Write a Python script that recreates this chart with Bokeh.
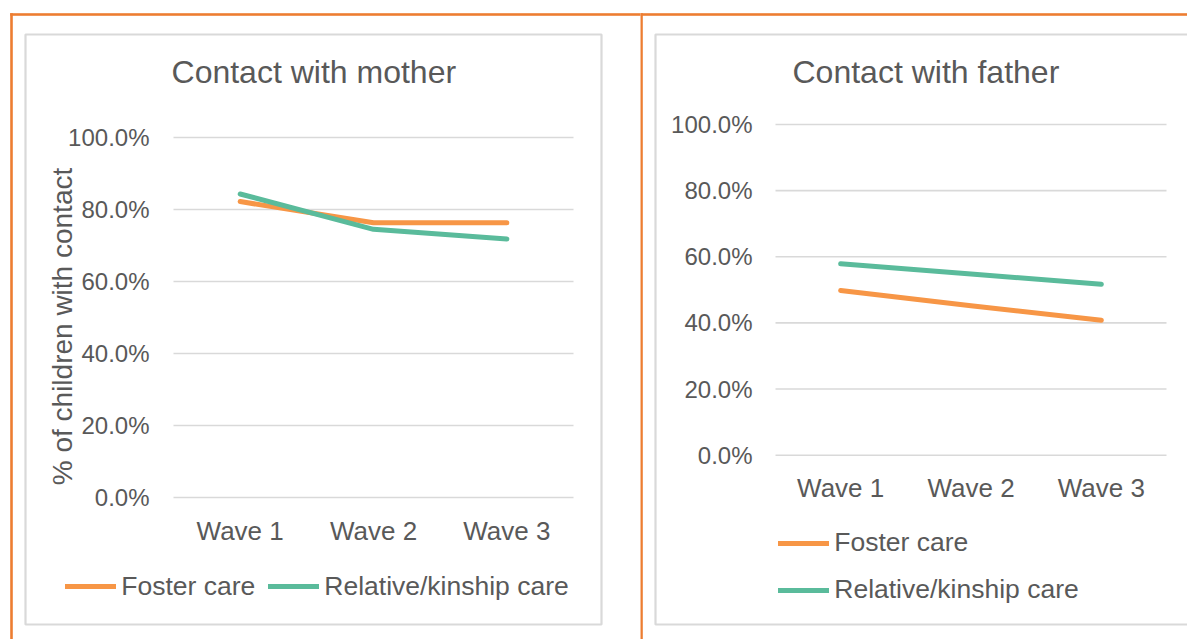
import math
from bokeh.plotting import figure
from bokeh.models import (Range1d, FixedTicker, PrintfTickFormatter, LinearAxis,
                          Legend, LegendItem, Label)
from bokeh.layouts import row
from bokeh.embed import file_html
from bokeh.resources import INLINE

# ---------------- data ----------------
waves = ["Wave 1", "Wave 2", "Wave 3"]
series_names = ["Foster care", "Relative/kinship care"]
mother_foster = [82.2, 76.3, 76.3]
mother_relative = [84.3, 74.5, 71.8]
father_foster = [49.8, 45.2, 40.8]
father_relative = [57.9, 54.8, 51.7]
y_ticks = [0, 20, 40, 60, 80, 100]
titles = ["Contact with mother", "Contact with father"]
y_title = "% of children with contact"

# ---------------- style / layout (pixels) ----------------
FONT = "Liberation Sans"
TXT = "#595959"
ORANGE = "#F79646"
TEAL = "#5ABB9B"
FRAMEC = "#ED7D31"
GRID = "#D9D9D9"
H = 639
W_L, W_R = 640, 547


def make_chart(width, gx0, gx1, gy100, gy0, foster, relative, ystand):
    n = len(waves)
    ppx = (gx1 - gx0) / n
    xs = -0.5 - gx0 / ppx
    xe = n - 0.5 + (width - gx1) / ppx
    ppy = (gy0 - gy100) / (y_ticks[-1] - y_ticks[0])
    ys = y_ticks[0] - (H - gy0) / ppy
    ye = y_ticks[-1] + gy100 / ppy
    p = figure(width=width, height=H, x_range=Range1d(xs, xe), y_range=Range1d(ys, ye),
               output_backend="svg", toolbar_location=None,
               x_axis_location=None, y_axis_location=None,
               min_border_left=0, min_border_right=0, min_border_top=0, min_border_bottom=0)
    p.outline_line_color = None
    p.grid.visible = False
    p.background_fill_color = "white"
    p.border_fill_color = "white"
    p.extra_x_ranges = {"px": Range1d(0, width)}
    p.extra_y_ranges = {"px": Range1d(H, 0)}

    yax = LinearAxis(ticker=FixedTicker(ticks=y_ticks),
                     formatter=PrintfTickFormatter(format="%.1f%%"),
                     fixed_location=-0.5)
    xax = LinearAxis(ticker=FixedTicker(ticks=list(range(n))),
                     major_label_overrides={i: w for i, w in enumerate(waves)},
                     fixed_location=y_ticks[0])
    for ax in (xax, yax):
        ax.axis_line_color = None
        ax.major_tick_line_color = None
        ax.minor_tick_line_color = None
        ax.major_label_text_font = FONT
        ax.major_label_text_color = TXT
    yax.major_label_text_font_size = "24px"
    yax.major_label_standoff = ystand
    xax.major_label_text_font_size = "26px"
    xax.major_label_standoff = 12
    p.add_layout(yax, "left")
    p.add_layout(xax, "below")

    p.segment(x0=[-0.5] * len(y_ticks), x1=[n - 0.5] * len(y_ticks), y0=y_ticks, y1=y_ticks,
              line_color=GRID, line_width=1.6)

    xi = list(range(n))
    r1 = p.line(xi, foster, line_color=ORANGE, line_width=5,
                line_cap="round", line_join="round")
    r2 = p.line(xi, relative, line_color=TEAL, line_width=5,
                line_cap="round", line_join="round")
    return p, r1, r2


def deco(p, left, right, top, bottom, fill=None, line=None, lw=0):
    p.quad(left=[left], right=[right], top=[top], bottom=[bottom],
           x_range_name="px", y_range_name="px",
           fill_color=fill, fill_alpha=1.0 if fill else 0.0,
           line_color=line, line_width=lw, level="underlay")


def rule(p, left, right, top, bottom):
    deco(p, left, right, top, bottom, fill=FRAMEC, line=FRAMEC, lw=0.6)


def add_legend(p, r1, r2, loc, orientation, spacing):
    legend = Legend(items=[LegendItem(label=series_names[0], renderers=[r1]),
                           LegendItem(label=series_names[1], renderers=[r2])],
                    location=loc, orientation=orientation,
                    glyph_width=51, glyph_height=30, label_height=30,
                    label_standoff=5, spacing=spacing, padding=0, margin=0,
                    border_line_color=None, background_fill_alpha=0,
                    label_text_font=FONT, label_text_font_size="26.5px",
                    label_text_color=TXT)
    p.add_layout(legend)


def add_text(p, x, y_top, text, size, angle=0.0, baseline="alphabetic"):
    p.add_layout(Label(x=x, y=H - y_top, x_units="screen", y_units="screen", text=text,
                       angle=angle, text_align="center", text_baseline=baseline,
                       text_font=FONT, text_font_size=size, text_color=TXT))


# ---------------- left chart ----------------
pL, l1, l2 = make_chart(W_L, 173, 573, 137, 497, mother_foster, mother_relative, 18)
deco(pL, 25, 601, 34, 624, line=GRID, lw=2.2)               # chart panel
rule(pL, 10, W_L + 5, 13, 15)                               # orange top rule
rule(pL, 10, 12, 13, H + 5)                                 # orange left rule
add_text(pL, 313.3, 71.5, titles[0], "32px")
add_text(pL, 62, 326, y_title, "28px", angle=math.pi / 2, baseline="middle")
add_legend(pL, l1, l2, (65.25, H - 601.7), "horizontal", 13)

# ---------------- right chart ----------------
pR, q1, q2 = make_chart(W_R, 135, 526, 124, 454.7, father_foster, father_relative, 17)
deco(pR, 15, W_R + 60, 34, 624, line=GRID, lw=2.2)          # chart panel (runs off edge)
rule(pR, -5, W_R + 5, 13, 15)                               # orange top rule
rule(pR, 0, 2, 13, H + 5)                                   # orange divider
add_text(pR, 285.4, 71.5, titles[1], "32px")
add_legend(pR, q1, q2, (138.25, H - 605.3), "vertical", 16)

layout = row(pL, pR, spacing=0)
open("out.html", "w").write(file_html(layout, INLINE))
